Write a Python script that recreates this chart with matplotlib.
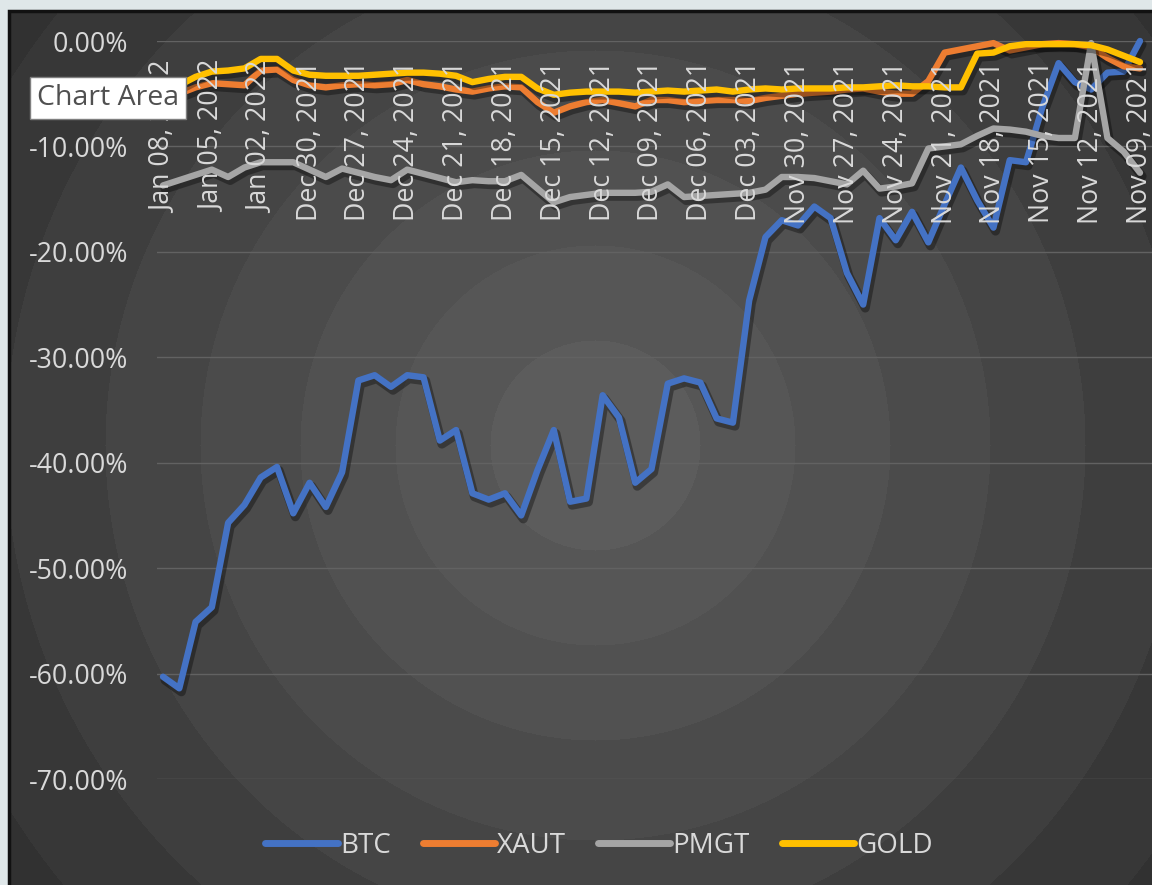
import numpy as np
import pandas as pd
import matplotlib
matplotlib.use("Agg")
import matplotlib.pyplot as plt
import matplotlib.patheffects as pe
from matplotlib.transforms import blended_transform_factory

plt.rcParams['font.family'] = ['Open Sans', 'DejaVu Sans']

# ---------------- data ----------------
dates = pd.date_range('2021-11-09', '2022-01-08')[::-1]
categories = [d.strftime('%b %d, %Y') for d in dates]

btc = [-60.3, -61.4, -55.1, -53.7, -45.7, -44.0, -41.4, -40.4, -44.8, -41.9,
       -44.2, -40.9, -32.2, -31.7, -32.8, -31.7, -31.9, -37.9, -36.9, -42.9,
       -43.5, -42.9, -45.0, -40.7, -36.9, -43.7, -43.4, -33.6, -35.7, -41.9,
       -40.6, -32.5, -32.0, -32.4, -35.8, -36.2, -24.6, -18.6, -17.0, -17.5,
       -15.7, -16.8, -22.0, -25.0, -16.8, -18.9, -16.2, -19.1, -15.5, -12.0,
       -15.1, -17.7, -11.3, -11.5, -6.3, -2.1, -3.9, -4.6, -3.0, -2.9, 0.0]
xaut = [-5.0, -5.0, -4.4, -4.0, -4.1, -4.2, -2.8, -2.7, -3.7, -4.2,
        -4.4, -4.2, -4.1, -4.2, -4.1, -3.7, -4.1, -4.3, -4.6, -4.8,
        -4.5, -4.3, -4.4, -5.8, -6.8, -6.2, -5.8, -5.6, -5.9, -6.2,
        -5.6, -5.6, -5.8, -5.7, -5.6, -5.6, -5.7, -5.4, -5.2, -5.0,
        -4.9, -4.8, -4.6, -4.5, -4.8, -5.0, -5.0, -3.8, -1.1, -0.8,
        -0.5, -0.2, -0.9, -0.6, -0.3, -0.2, -0.3, -0.6, -1.6, -2.4, -2.6]
pmgt = [-13.7, -13.2, -12.7, -12.2, -12.9, -12.0, -11.5, -11.5, -11.5, -12.2,
        -12.9, -12.1, -12.5, -12.9, -13.2, -12.2, -12.6, -13.0, -13.4, -13.2,
        -13.3, -13.3, -12.7, -14.0, -15.3, -14.8, -14.6, -14.4, -14.4, -14.4,
        -14.3, -13.6, -14.8, -14.7, -14.6, -14.5, -14.4, -14.1, -12.9, -12.9,
        -13.0, -13.3, -13.6, -12.3, -14.0, -13.8, -13.5, -10.2, -10.0, -9.8,
        -9.0, -8.3, -8.4, -8.6, -9.0, -9.2, -9.2, -0.2, -9.2, -10.5, -12.5]
gold = [-4.5, -4.2, -3.4, -2.9, -2.8, -2.6, -1.7, -1.7, -2.8, -3.2,
        -3.3, -3.3, -3.3, -3.2, -3.1, -3.0, -3.0, -3.1, -3.3, -3.9,
        -3.6, -3.4, -3.4, -4.5, -5.1, -4.9, -4.8, -4.8, -4.8, -4.9,
        -4.8, -4.7, -4.8, -4.7, -4.6, -4.8, -4.6, -4.5, -4.6, -4.5,
        -4.5, -4.5, -4.4, -4.4, -4.3, -4.2, -4.3, -4.3, -4.4, -4.4,
        -1.2, -1.1, -0.5, -0.3, -0.3, -0.3, -0.3, -0.4, -0.8, -1.4, -2.0]

series_names = ['BTC', 'XAUT', 'PMGT', 'GOLD']
series_colors = ['#4472c4', '#ed7d31', '#a5a5a5', '#ffc000']
y_ticks = [0, -10, -20, -30, -40, -50, -60, -70]
y_tick_labels = ['0.00%', '-10.00%', '-20.00%', '-30.00%', '-40.00%',
                 '-50.00%', '-60.00%', '-70.00%']

# ---------------- figure ----------------
W, H = 1152, 885
fig = plt.figure(figsize=(W / 100, H / 100), dpi=100)
fig.patch.set_facecolor('#dfe7e9')

# background chart area with stepped radial gradient
bg = fig.add_axes([0, 0, 1, 1])
bg.set_xlim(0, W)
bg.set_ylim(H, 0)
bg.axis('off')
x0, y0 = 9, 11
yy, xx = np.mgrid[y0:H, x0:W]
d = np.hypot(xx - 595, yy - 445)
edges = np.array([105, 200, 295, 395, 490, 590, 690])
levels = np.array([0x5c, 0x56, 0x51, 0x4b, 0x45, 0x3e, 0x37, 0x31]) / 255.0
lvl = levels[np.searchsorted(edges, d)]
img = np.dstack([lvl, lvl, lvl])
bg.imshow(img, extent=(x0, W, H, y0), interpolation='nearest', aspect='auto', zorder=0)
bg.plot([x0, x0, W], [H, y0, y0], color='#111111', lw=2.5, zorder=1, solid_joinstyle='miter')

# ---------------- plot area ----------------
left_px, right_px, top_px, bot_px = 157, 1152, 41, 779
ax = fig.add_axes([left_px / W, (H - bot_px) / H, (right_px - left_px) / W, (bot_px - top_px) / H])
ax.set_facecolor('none')
for s in ax.spines.values():
    s.set_visible(False)

step = (1140 - 163) / 60.0
ax.set_xlim(-(163 - left_px) / step, 60 + (right_px - 1140) / step)
ax.set_ylim(-70, 0)
ax.set_yticks(y_ticks)
ax.set_yticklabels(y_tick_labels)
ax.set_xticks([])
ax.tick_params(axis='y', length=0, pad=20.5, labelsize=19.3, labelcolor='#d9d9d9')
ax.grid(axis='y', color='#626262', lw=1.0)
ax.set_axisbelow(True)

xs = np.arange(len(categories))
shadow = [pe.SimpleLineShadow(offset=(1.5, -2.5), shadow_color='black', alpha=0.35, linewidth=6.5),
          pe.Normal()]
for name, vals, col in zip(series_names, [btc, xaut, pmgt, gold], series_colors):
    ax.plot(xs, vals, color=col, lw=4.6, label=name, solid_joinstyle='round',
            solid_capstyle='round', clip_on=False, path_effects=shadow, zorder=3)

# category labels (every 3rd), rotated, hanging below the 0% axis
trans = blended_transform_factory(ax.transData, ax.transAxes)
ytop = (bot_px - 61) / (bot_px - top_px)
for i in range(0, len(categories), 3):
    ax.text(i, ytop, categories[i], rotation=90, ha='center', va='top',
            fontsize=19.3, color='#d9d9d9', transform=trans, zorder=4)

# legend
leg = fig.legend(loc='center', bbox_to_anchor=(599 / W, (H - 846) / H), ncol=4, frameon=False,
                 fontsize=20, handlelength=2.6, handletextpad=0.08, columnspacing=1.15,
                 labelcolor='#d9d9d9')
for h in leg.get_lines():
    h.set_linewidth(5)
    h.set_solid_capstyle('round')
    h.set_path_effects([])

# "Chart Area" tooltip
fig.text(37 / W, (H - 98) / H, 'Chart Area', fontsize=20.5, color='#505050', va='center', ha='left',
         bbox=dict(boxstyle='square,pad=0.25', facecolor='white', edgecolor='#7f7f7f', lw=1))

fig.savefig('out.png', dpi=100, facecolor=fig.get_facecolor())
